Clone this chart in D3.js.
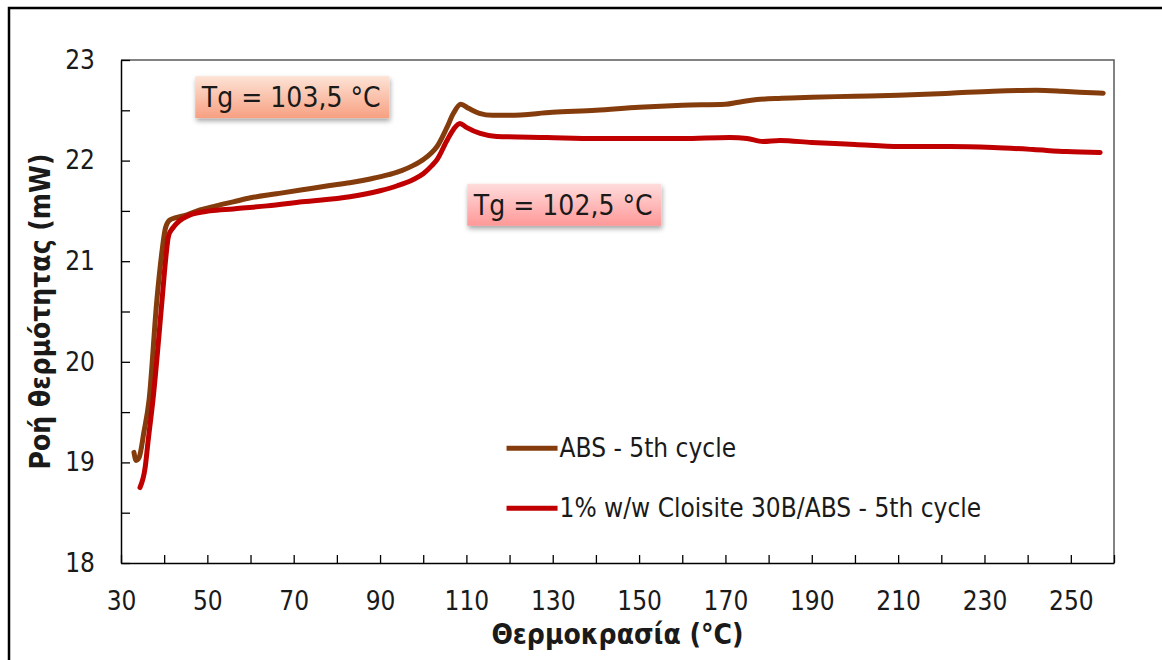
<!DOCTYPE html>
<html>
<head>
<meta charset="utf-8">
<script src="https://cdn.jsdelivr.net/npm/d3@7"></script>
<style>
  body { margin: 0; background: #fff; }
  svg text { font-family: "DejaVu Sans Condensed", "DejaVu Sans", sans-serif; fill: #1a1a1a; }
</style>
</head>
<body>
<div class="canvas"></div>
<script>
// ---- data ----
const absTemp = [33.0, 33.5, 34.2, 35.3, 36.5, 38.3, 39.5, 40.3, 41.3, 42.5, 44.4, 48.3, 52, 56, 60, 66, 72, 78, 83, 88, 92, 95, 97.6, 100, 102, 103.2, 105.5, 107, 108.7, 110.5, 113, 116, 120, 130, 140, 150, 160, 170, 173, 176, 183, 190, 200, 210, 222, 232, 242, 248, 252, 257.5];
const absFlow = [19.10, 19.02, 19.05, 19.30, 19.62, 20.61, 21.10, 21.33, 21.41, 21.43, 21.45, 21.51, 21.55, 21.59, 21.63, 21.67, 21.71, 21.75, 21.78, 21.82, 21.86, 21.90, 21.95, 22.01, 22.08, 22.14, 22.33, 22.47, 22.56, 22.52, 22.47, 22.45, 22.45, 22.48, 22.50, 22.53, 22.55, 22.56, 22.58, 22.60, 22.62, 22.63, 22.64, 22.65, 22.67, 22.69, 22.70, 22.69, 22.68, 22.67];

const cloTemp = [34.4, 35.6, 36.3, 37.4, 39.5, 40.3, 41.0, 42.0, 43.0, 46, 50.6, 56, 63.8, 72, 83, 90, 94, 97.6, 100, 102, 103.2, 105.5, 107, 108.5, 110, 113.2, 117, 128.7, 140, 151.8, 160, 171, 175, 178.7, 182.6, 190, 200, 210.4, 222, 232, 241.3, 249, 256.8];
const cloFlow = [18.75, 18.95, 19.22, 19.62, 20.61, 21.00, 21.25, 21.33, 21.38, 21.46, 21.50, 21.52, 21.55, 21.59, 21.64, 21.70, 21.75, 21.81, 21.87, 21.95, 22.01, 22.20, 22.31, 22.37, 22.33, 22.27, 22.24, 22.23, 22.22, 22.22, 22.22, 22.23, 22.22, 22.19, 22.20, 22.18, 22.16, 22.14, 22.14, 22.13, 22.11, 22.09, 22.08];

const seriesNames = ["ABS - 5th cycle", "1% w/w Cloisite 30B/ABS - 5th cycle"];
const seriesColors = ["#843c0c", "#c00000"];

const xTicks = d3.range(30, 261, 10);
const xLabels = [30, 50, 70, 90, 110, 130, 150, 170, 190, 210, 230, 250];
const yTicks = d3.range(18, 23.01, 0.5);
const yLabels = [18, 19, 20, 21, 22, 23];

const notes = [
  { text: "Tg = 103,5 °C", t: 47.2, v: 22.84, grad: "gradA" },
  { text: "Tg = 102,5 °C", t: 110.2, v: 21.77, grad: "gradB" }
];

// ---- layout ----
const svgWidth = 1162;
const svgHeight = 660;
const margin = { t: 60, r: 48, b: 97, l: 121 };
const gWidth = svgWidth - margin.l - margin.r;
const gHeight = svgHeight - margin.t - margin.b;

const svg = d3.select(".canvas").append("svg")
  .attr("width", svgWidth)
  .attr("height", svgHeight);

const defs = svg.append("defs");
const gA = defs.append("linearGradient").attr("id", "gradA").attr("x1", 0).attr("y1", 0).attr("x2", 0).attr("y2", 1);
gA.append("stop").attr("offset", "0%").attr("stop-color", "#fde3d6");
gA.append("stop").attr("offset", "100%").attr("stop-color", "#f7a081");
const gB = defs.append("linearGradient").attr("id", "gradB").attr("x1", 0).attr("y1", 0).attr("x2", 0).attr("y2", 1);
gB.append("stop").attr("offset", "0%").attr("stop-color", "#ffdcdc");
gB.append("stop").attr("offset", "100%").attr("stop-color", "#ff9898");
const shadow = defs.append("filter").attr("id", "shadow").attr("x", "-20%").attr("y", "-30%").attr("width", "140%").attr("height", "170%");
shadow.append("feDropShadow").attr("dx", 1).attr("dy", 3).attr("stdDeviation", 2.5).attr("flood-color", "#000").attr("flood-opacity", 0.35);

// outer chart border (runs off the right / bottom of the picture)
svg.append("rect")
  .attr("x", 9).attr("y", 8)
  .attr("width", 1200).attr("height", 700)
  .attr("fill", "none").attr("stroke", "#000").attr("stroke-width", 2.5);

const g = svg.append("g").attr("transform", `translate(${margin.l}, ${margin.t})`);

const x = d3.scaleLinear().domain([30, 260]).range([0, gWidth]);
const y = d3.scaleLinear().domain([18, 23]).range([gHeight, 0]);

// plot frame (top & right in grey)
g.append("path")
  .attr("d", `M0,0H${gWidth}V${gHeight}`)
  .attr("fill", "none").attr("stroke", "#595959").attr("stroke-width", 1.5);

const xAxis = d3.axisBottom(x)
  .tickValues(xTicks)
  .tickSizeInner(-8).tickSizeOuter(0).tickPadding(29)
  .tickFormat(d => xLabels.includes(d) ? d : "");
const yAxis = d3.axisLeft(y)
  .tickValues(yTicks)
  .tickSizeInner(-9).tickSizeOuter(0).tickPadding(26)
  .tickFormat(d => yLabels.includes(d) ? d : "");

const xAxisGroup = g.append("g").attr("transform", `translate(0, ${gHeight})`).call(xAxis);
const yAxisGroup = g.append("g").call(yAxis);

[xAxisGroup, yAxisGroup].forEach(ax => {
  ax.select(".domain").attr("stroke", "#000").attr("stroke-width", 1.5);
  ax.selectAll(".tick line").attr("stroke", "#000").attr("stroke-width", 1.3);
  ax.selectAll(".tick text").attr("font-size", 26).attr("fill", "#1a1a1a")
    .style("font-family", '"DejaVu Sans Condensed", "DejaVu Sans", sans-serif');
});

// axis titles
svg.append("text")
  .attr("x", margin.l + gWidth / 2).attr("y", 644)
  .attr("text-anchor", "middle")
  .attr("font-size", 28).attr("font-weight", "bold")
  .text("Θερμοκρασία (°C)");
svg.append("text")
  .attr("transform", `translate(50, ${margin.t + gHeight / 2}) rotate(-90)`)
  .attr("text-anchor", "middle")
  .attr("font-size", 28).attr("font-weight", "bold")
  .text("Ροή θερμότητας (mW)");

// curves
const series = [
  absTemp.map((t, i) => ({ t, v: absFlow[i] })),
  cloTemp.map((t, i) => ({ t, v: cloFlow[i] }))
];
const line = d3.line().x(d => x(d.t)).y(d => y(d.v)).curve(d3.curveMonotoneX);

g.selectAll("path.curve")
  .data(series)
  .enter().append("path")
  .attr("class", "curve")
  .attr("d", line)
  .attr("fill", "none")
  .attr("stroke", (d, i) => seriesColors[i])
  .attr("stroke-width", 5)
  .attr("stroke-linecap", "round")
  .attr("stroke-linejoin", "round");

// Tg notes
const note = g.selectAll("g.note").data(notes).enter().append("g")
  .attr("class", "note")
  .attr("transform", d => `translate(${x(d.t)}, ${y(d.v)})`);
note.append("rect")
  .attr("x", 0).attr("y", 0).attr("width", 194).attr("height", 42)
  .attr("fill", d => `url(#${d.grad})`)
  .attr("filter", "url(#shadow)");
note.append("text")
  .attr("x", 96).attr("y", 31)
  .attr("text-anchor", "middle")
  .attr("font-size", 28)
  .text(d => d.text);

// legend
const legend = g.append("g").attr("transform", `translate(${x(119.3)}, ${y(19.14)})`);
const item = legend.selectAll("g").data(seriesNames).enter().append("g")
  .attr("transform", (d, i) => `translate(0, ${i * 60})`);
item.append("line")
  .attr("x1", 0).attr("x2", 51).attr("y1", 0).attr("y2", 0)
  .attr("stroke", (d, i) => seriesColors[i])
  .attr("stroke-width", 5);
item.append("text")
  .attr("x", 53).attr("y", 9)
  .attr("font-size", 26)
  .text(d => d);
</script>
</body>
</html>
